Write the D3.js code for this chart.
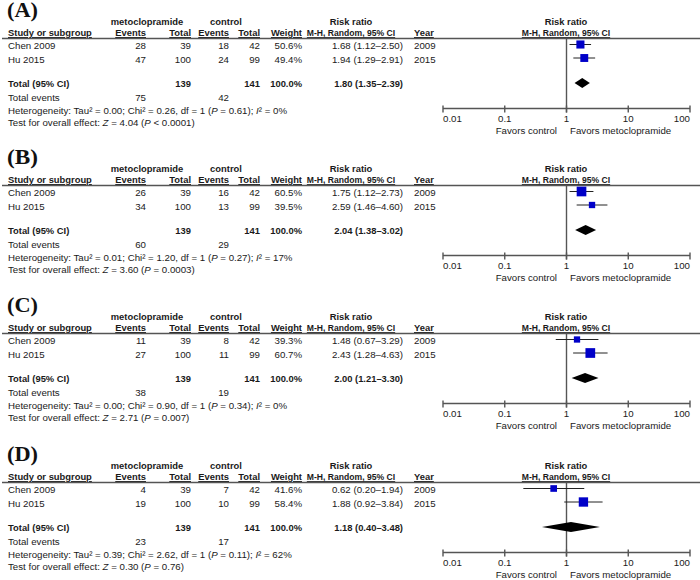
<!DOCTYPE html>
<html>
<head>
<meta charset="utf-8">
<script src="https://cdn.jsdelivr.net/npm/d3@7"></script>
<style>
  html, body { margin: 0; padding: 0; background: #fff; }
  svg { display: block; }
  text { font-family: "Liberation Sans", Arial, sans-serif; font-size: 9.7px; fill: #1a1a1a; }
  text.b { font-weight: bold; font-size: 9.4px; }
  text.mh { font-size: 8.6px; }
</style>
</head>
<body>
<svg id="chart" width="700" height="580"></svg>
<script>
// ---------------- DATA ----------------
const panelLabels = ["(A)", "(B)", "(C)", "(D)"];
const studies = ["Chen 2009", "Hu 2015"];
const years = ["2009", "2015"];
const metoEvents = [[28, 47], [26, 34], [11, 27], [4, 19]];
const metoTotals = [39, 100];
const ctrlEvents = [[18, 24], [16, 13], [8, 11], [7, 10]];
const ctrlTotals = [42, 99];
const weights = [[50.6, 49.4], [60.5, 39.5], [39.3, 60.7], [41.6, 58.4]];
const rr = [[1.68, 1.94], [1.75, 2.59], [1.48, 2.43], [0.62, 1.88]];
const rrLow = [[1.12, 1.29], [1.12, 1.46], [0.67, 1.28], [0.20, 0.92]];
const rrHigh = [[2.50, 2.91], [2.73, 4.60], [3.29, 4.63], [1.94, 3.84]];
const pooledRR = [1.80, 2.04, 2.00, 1.18];
const pooledLow = [1.35, 1.38, 1.21, 0.40];
const pooledHigh = [2.39, 3.02, 3.30, 3.48];
const totalMeto = 139;
const totalCtrl = 141;
const totalEventsMeto = [75, 60, 38, 23];
const totalEventsCtrl = [42, 29, 19, 17];
const tau2 = ["0.00", "0.01", "0.00", "0.39"];
const chi2 = ["0.26", "1.20", "0.90", "2.62"];
const hetP = ["0.61", "0.27", "0.34", "0.11"];
const i2 = ["0", "17", "0", "62"];
const zValues = ["4.04", "3.60", "2.71", "0.30"];
const zP = ["< 0.0001", "= 0.0003", "= 0.007", "= 0.76"];
const axisTicks = [0.01, 0.1, 1, 10, 100];
const tickLabels = ["0.01", "0.1", "1", "10", "100"];

// ---------------- LAYOUT ----------------
const panelTop = [0, 147, 295, 444];
const colX = { study: 8, ev1: 146, tot1: 191, ev2: 229, tot2: 260, weight: 302, rr: 403, rrHead: 351, year: 414, plot: 566 };
const rowY = { label: 17, head1: 24.5, head2: 36, line: 38.5, s: [48.5, 62.5], total: 87, tev: 100.5, het: 113.5, test: 126, axis: 108.5, tick: 121.5, favors: 134 };
const rowC = [44.5, 58];
const totalC = 83;

const x = d3.scaleLog().domain([0.01, 100]).range([443, 690]);
const fmt2 = d3.format(".2f");
const rrText = (m, l, h) => `${fmt2(m)} (${fmt2(l)}\u2013${fmt2(h)})`;

const svg = d3.select("#chart");
svg.append("rect").attr("width", 700).attr("height", 580).attr("fill", "#fff");

panelLabels.forEach((lab, p) => {
  const g = svg.append("g").attr("transform", `translate(0,${panelTop[p]})`);

  // panel label
  g.append("text").attr("x", 7).attr("y", rowY.label)
    .attr("textLength", 31).attr("lengthAdjust", "spacingAndGlyphs")
    .style("font-family", "'Liberation Serif', 'Times New Roman', serif")
    .style("font-size", "20px").style("font-weight", "bold").style("fill", "#111")
    .text(lab);

  // header row 1
  const h1 = [["metoclopramide", 147], ["control", 226], ["Risk ratio", colX.rrHead], ["Risk ratio", colX.plot]];
  h1.forEach(([t, xx]) => g.append("text").attr("class", "b").attr("x", xx).attr("y", rowY.head1)
    .attr("text-anchor", "middle").text(t));

  // header row 2
  const h2 = [["Study or subgroup", colX.study, "start"], ["Events", colX.ev1, "end"], ["Total", colX.tot1, "end"],
    ["Events", colX.ev2, "end"], ["Total", colX.tot2, "end"], ["Weight", colX.weight, "end"],
    ["M-H, Random, 95% CI", colX.rrHead, "middle", "mh"], ["Year", colX.year, "start"], ["M-H, Random, 95% CI", colX.plot, "middle", "mh"]];
  h2.forEach(([t, xx, a, c]) => g.append("text").attr("class", c ? "b " + c : "b").attr("x", xx).attr("y", rowY.head2)
    .attr("text-anchor", a).style("text-decoration", "underline").text(t));

  // header rule
  g.append("line").attr("x1", 2).attr("x2", 700).attr("y1", rowY.line).attr("y2", rowY.line)
    .attr("stroke", "#555").attr("stroke-width", 1.6);

  // study rows
  studies.forEach((s, i) => {
    const y = rowY.s[i];
    const cells = [[s, colX.study, "start"], [metoEvents[p][i], colX.ev1, "end"], [metoTotals[i], colX.tot1, "end"],
      [ctrlEvents[p][i], colX.ev2, "end"], [ctrlTotals[i], colX.tot2, "end"], [weights[p][i].toFixed(1) + "%", colX.weight, "end"],
      [rrText(rr[p][i], rrLow[p][i], rrHigh[p][i]), colX.rr, "end"], [years[i], colX.year, "start"]];
    cells.forEach(([t, xx, a]) => g.append("text").attr("x", xx).attr("y", y).attr("text-anchor", a).text(t));
  });

  // totals row
  const tcells = [["Total (95% CI)", colX.study, "start"], [totalMeto, colX.tot1, "end"], [totalCtrl, colX.tot2, "end"],
    ["100.0%", colX.weight, "end"], [rrText(pooledRR[p], pooledLow[p], pooledHigh[p]), colX.rr, "end"]];
  tcells.forEach(([t, xx, a]) => g.append("text").attr("class", "b").attr("x", xx).attr("y", rowY.total).attr("text-anchor", a)
    .text(t));

  // total events
  g.append("text").attr("x", colX.study).attr("y", rowY.tev).text("Total events");
  g.append("text").attr("x", colX.ev1).attr("y", rowY.tev).attr("text-anchor", "end").text(totalEventsMeto[p]);
  g.append("text").attr("x", colX.ev2).attr("y", rowY.tev).attr("text-anchor", "end").text(totalEventsCtrl[p]);

  // heterogeneity
  const het = g.append("text").attr("x", colX.study).attr("y", rowY.het);
  het.append("tspan").text(`Heterogeneity: Tau\u00B2 = ${tau2[p]}; Chi\u00B2 = ${chi2[p]}, df = 1 (`);
  het.append("tspan").style("font-style", "italic").text("P");
  het.append("tspan").text(` = ${hetP[p]}); `);
  het.append("tspan").style("font-style", "italic").text("I");
  het.append("tspan").text(`\u00B2 = ${i2[p]}%`);

  // overall effect
  const te = g.append("text").attr("x", colX.study).attr("y", rowY.test);
  te.append("tspan").text("Test for overall effect: ");
  te.append("tspan").style("font-style", "italic").text("Z");
  te.append("tspan").text(` = ${zValues[p]} (`);
  te.append("tspan").style("font-style", "italic").text("P");
  te.append("tspan").text(` ${zP[p]})`);

  // forest plot: null line
  g.append("line").attr("x1", x(1)).attr("x2", x(1)).attr("y1", rowY.line).attr("y2", rowY.axis + 4)
    .attr("stroke", "#555").attr("stroke-width", 1.4);

  // axis
  g.append("line").attr("x1", x(0.01)).attr("x2", x(100)).attr("y1", rowY.axis).attr("y2", rowY.axis)
    .attr("stroke", "#555").attr("stroke-width", 1.6);
  axisTicks.forEach((t, k) => {
    g.append("line").attr("x1", x(t)).attr("x2", x(t)).attr("y1", rowY.axis - 3).attr("y2", rowY.axis + 4)
      .attr("stroke", "#555").attr("stroke-width", 1.4);
    const anchor = k === 0 ? "start" : (k === axisTicks.length - 1 ? "end" : "middle");
    g.append("text").attr("x", x(t)).attr("y", rowY.tick).attr("text-anchor", anchor).text(tickLabels[k]);
  });
  g.append("text").attr("x", 557).attr("y", rowY.favors).attr("text-anchor", "end").text("Favors control");
  g.append("text").attr("x", 570).attr("y", rowY.favors).attr("text-anchor", "start").text("Favors metoclopramide");

  // study CIs and squares
  studies.forEach((s, i) => {
    const cy = rowC[i];
    g.append("line").attr("x1", x(rrLow[p][i])).attr("x2", x(rrHigh[p][i])).attr("y1", cy).attr("y2", cy)
      .attr("stroke", "#222").attr("stroke-width", 1);
    const side = weights[p][i] * 0.16;
    g.append("rect").attr("x", x(rr[p][i]) - side / 2).attr("y", cy - side / 2)
      .attr("width", side).attr("height", side).attr("fill", "#0000c8");
  });

  // pooled diamond
  const dh = 5;
  const pts = [[x(pooledLow[p]), totalC], [x(pooledRR[p]), totalC - dh], [x(pooledHigh[p]), totalC], [x(pooledRR[p]), totalC + dh]];
  g.append("path").attr("d", d3.line()(pts) + "Z").attr("fill", "#000");
});
</script>
</body>
</html>
